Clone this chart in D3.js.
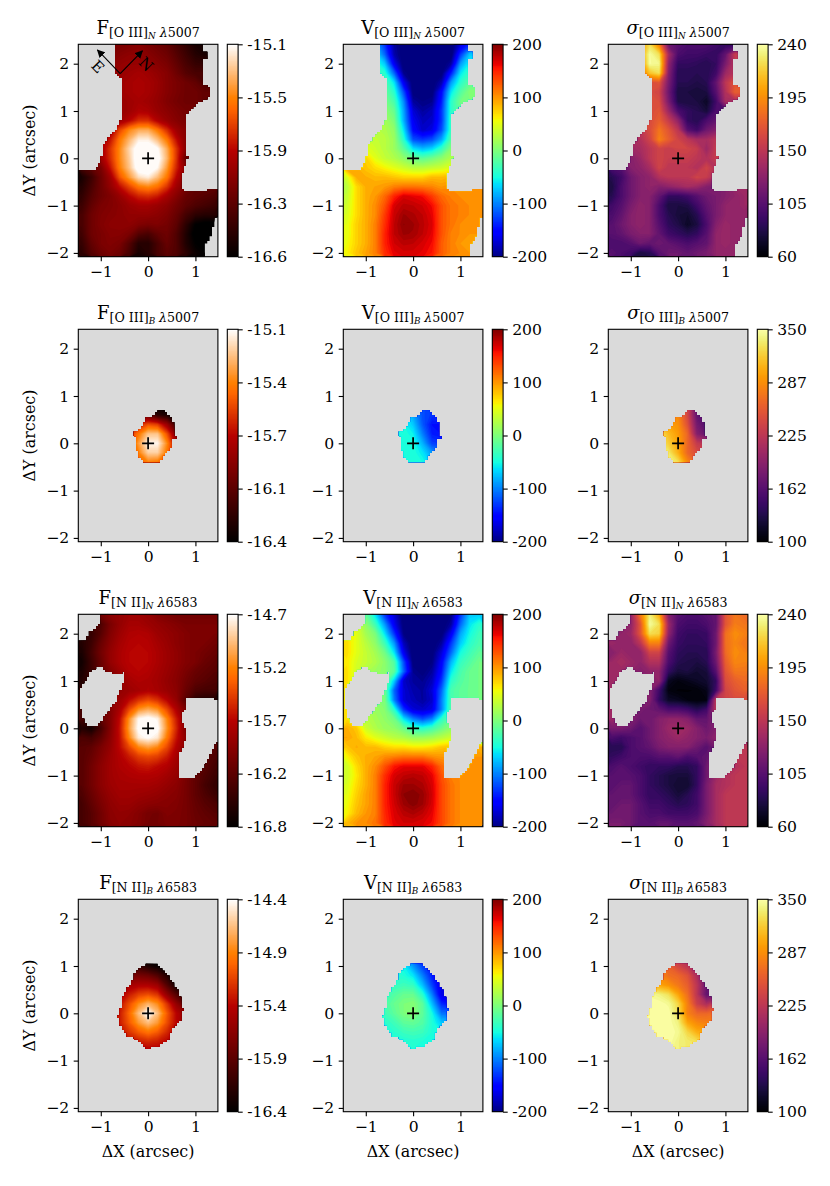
<!DOCTYPE html>
<html>
<head>
<meta charset="utf-8">
<style>
  body { margin: 0; background: #fff; }
  text { font-family: "DejaVu Serif", serif; fill: #000; }
</style>
<script src="https://d3js.org/d3.v7.min.js"></script>
</head>
<body>
<div id="chart"></div>
<script>
var svgWidth = 830;
var svgHeight = 1186;

// Narrow maps: nodes every 0.2 arcsec, x -1.4..1.4, y 2.4..-2.0
var fluxO3Narrow = [
  [-16.1,-16.1,-16.1,-16.1,-16.1,-16.08,-16.05,-16.1,-16.15,-16.2,-16.3,-16.4,-16.5,-16.5,-16.5],
  [-16.1,-16.1,-16.1,-16.1,-16.05,-16.02,-16.02,-16.05,-16.1,-16.15,-16.25,-16.35,-16.45,-16.5,-16.5],
  [-16.05,-16.05,-16.05,-16.05,-16,-15.98,-15.98,-16.02,-16.05,-16.1,-16.2,-16.3,-16.38,-16.4,-16.4],
  [-16,-16,-16,-16,-15.98,-15.95,-15.92,-15.95,-16,-16.05,-16.15,-16.25,-16.3,-16.3,-16.3],
  [-16,-16,-16,-16,-15.95,-15.92,-15.9,-15.92,-15.97,-16.05,-16.1,-16.15,-16.2,-16.3,-16.3],
  [-16,-16,-16,-16,-15.95,-15.92,-15.9,-15.92,-15.98,-16.05,-16.1,-16.15,-16.15,-16.2,-16.2],
  [-16,-16,-16,-16,-15.97,-15.95,-15.92,-15.95,-16,-16.07,-16.12,-16.15,-16.15,-16.2,-16.2],
  [-16,-16,-16,-16,-15.97,-15.95,-15.88,-15.9,-15.98,-16.03,-16.08,-16.12,-16.12,-16.12,-16.12],
  [-16,-16,-16,-16,-15.95,-15.85,-15.72,-15.72,-15.88,-15.98,-16.05,-16.1,-16.1,-16.1,-16.1],
  [-16,-16,-16,-15.95,-15.65,-15.45,-15.35,-15.35,-15.5,-15.72,-15.95,-16.05,-16.05,-16.05,-16.05],
  [-15.95,-15.95,-15.9,-15.8,-15.5,-15.32,-15.15,-15.15,-15.3,-15.5,-15.82,-16.05,-16.05,-16.05,-16.05],
  [-15.95,-15.95,-15.95,-15.7,-15.45,-15.22,-15.03,-15.03,-15.1,-15.35,-15.7,-16.05,-16.05,-16.05,-16.05],
  [-16,-16,-15.95,-15.72,-15.45,-15.25,-15,-15,-15.05,-15.32,-15.7,-16.2,-16.1,-16.1,-16.1],
  [-16.3,-16.2,-16.1,-15.8,-15.48,-15.28,-15.03,-15.03,-15.12,-15.4,-15.75,-16.05,-16.05,-16.05,-16.05],
  [-16.5,-16.35,-16.15,-15.95,-15.6,-15.4,-15.2,-15.15,-15.3,-15.5,-15.85,-16.05,-16.05,-16.05,-16.05],
  [-16.45,-16.3,-16.15,-16,-15.82,-15.65,-15.5,-15.45,-15.52,-15.7,-15.95,-16.1,-16.2,-16.2,-16.2],
  [-16.4,-16.25,-16.15,-16.08,-15.98,-15.85,-15.75,-15.72,-15.78,-15.92,-16.05,-16.18,-16.22,-16.25,-16.28],
  [-16.35,-16.2,-16.1,-16.07,-16.03,-15.97,-15.93,-15.93,-15.97,-16.03,-16.13,-16.22,-16.28,-16.32,-16.36],
  [-16.3,-16.15,-16.08,-16.05,-16.03,-16,-16,-16,-16.03,-16.08,-16.18,-16.32,-16.42,-16.45,-16.45],
  [-16.3,-16.15,-16.07,-16.03,-16.02,-16.02,-16.07,-16.1,-16.08,-16.12,-16.22,-16.42,-16.6,-16.65,-16.65],
  [-16.33,-16.15,-16.1,-16.05,-16.05,-16.1,-16.25,-16.3,-16.2,-16.15,-16.27,-16.47,-16.65,-16.65,-16.65],
  [-16.38,-16.2,-16.1,-16.07,-16.1,-16.25,-16.45,-16.45,-16.3,-16.18,-16.27,-16.47,-16.6,-16.65,-16.65],
  [-16.42,-16.25,-16.15,-16.1,-16.15,-16.3,-16.5,-16.45,-16.3,-16.22,-16.27,-16.42,-16.55,-16.6,-16.6]
];

var velO3Narrow = [
  [-80,-80,-80,-80,-130,-190,-210,-210,-210,-210,-210,-210,-170,-130,-130],
  [-60,-60,-60,-60,-110,-185,-210,-210,-210,-210,-210,-210,-130,-70,-70],
  [-40,-40,-40,-40,-70,-160,-208,-210,-210,-210,-210,-190,-90,-50,-50],
  [-30,-30,-30,-30,-40,-110,-195,-210,-210,-210,-205,-140,-60,-30,-30],
  [-20,-20,-20,-20,-20,-60,-160,-208,-210,-208,-185,-90,-40,-15,-10],
  [-10,-10,-10,-10,-10,-40,-120,-205,-210,-205,-150,-60,-20,5,5],
  [0,0,0,0,0,-25,-95,-190,-200,-195,-140,-40,-5,0,0],
  [10,10,10,10,10,-10,-85,-170,-190,-180,-130,-40,-10,-10,-10],
  [20,20,20,20,20,0,-80,-160,-180,-175,-130,-35,-15,-15,-15],
  [30,30,30,30,25,10,-60,-150,-175,-165,-120,-35,-15,-15,-15],
  [40,40,40,35,30,15,-40,-120,-130,-120,-85,-20,-5,-5,-5],
  [50,50,50,40,30,15,-15,-60,-75,-65,-35,5,10,10,10],
  [90,80,75,50,35,25,10,-8,-15,-5,8,25,25,25,25],
  [100,90,80,70,60,50,40,30,30,35,40,50,50,50,50],
  [45,90,90,85,85,80,75,75,75,85,85,90,90,90,90],
  [30,70,90,95,100,110,115,115,112,108,100,105,105,105,105],
  [35,70,90,100,120,150,170,165,160,140,120,110,105,105,105],
  [40,70,90,105,130,170,180,178,172,160,130,115,110,105,105],
  [45,70,90,105,140,175,190,185,178,165,130,115,110,105,105],
  [50,75,90,110,145,178,195,190,180,168,130,115,105,100,100],
  [50,75,90,110,150,178,190,188,178,165,130,110,105,100,100],
  [55,75,90,110,150,172,180,178,170,160,125,110,100,95,95],
  [60,80,95,110,145,165,170,170,165,155,125,110,105,100,100]
];

var sigmaO3Narrow = [
  [180,180,180,200,225,190,115,105,100,100,100,95,90,90,90],
  [200,200,200,200,238,225,140,100,95,95,92,90,110,155,155],
  [190,190,190,190,238,235,130,90,90,88,85,90,120,150,150],
  [180,180,180,180,215,225,125,85,85,85,85,95,135,150,150],
  [165,165,165,165,165,170,120,85,85,82,85,110,150,170,170],
  [165,165,165,165,165,160,115,80,80,78,80,105,145,175,175],
  [165,165,165,165,165,165,120,82,80,80,72,95,140,140,140],
  [165,165,165,165,165,170,135,100,90,85,78,100,100,100,100],
  [165,165,165,165,165,175,155,130,90,85,100,110,110,110,110],
  [150,150,150,150,165,185,170,150,105,95,115,125,125,125,125],
  [140,140,140,145,160,190,175,160,150,140,140,150,150,150,150],
  [135,135,135,140,150,160,155,160,160,155,135,155,155,155,155],
  [125,125,125,135,150,160,155,155,155,150,145,155,155,155,155],
  [100,105,125,130,140,160,150,150,150,145,160,145,145,145,145],
  [85,95,115,125,130,145,150,150,150,160,155,140,140,140,140],
  [80,100,115,125,130,125,130,135,140,135,125,120,125,135,135],
  [85,100,115,125,125,110,90,90,95,105,115,120,125,130,135],
  [95,105,120,130,125,100,80,80,82,95,110,120,130,130,135],
  [100,110,125,130,125,100,85,78,75,85,105,120,130,130,130],
  [105,115,125,130,125,105,88,82,72,80,100,125,135,130,130],
  [105,110,120,125,125,110,95,90,85,90,105,130,135,130,130],
  [100,100,105,115,110,115,110,105,100,105,110,130,135,130,130],
  [105,100,95,80,85,105,115,115,110,115,120,130,130,130,130]
];

var fluxN2Narrow = [
  [-16.2,-16.2,-16.15,-16,-15.95,-15.9,-15.9,-15.95,-16.05,-16.1,-16.15,-16.15,-16.15,-16.15,-16.15],
  [-16.3,-16.4,-16.35,-16.1,-15.95,-15.85,-15.85,-15.9,-15.95,-16,-16.05,-16.1,-16.1,-16.1,-16.1],
  [-16.55,-16.5,-16.3,-16.05,-15.9,-15.8,-15.78,-15.8,-15.9,-15.95,-16,-16.05,-16.1,-16.1,-16.1],
  [-16.6,-16.45,-16.2,-16,-15.85,-15.77,-15.75,-15.77,-15.85,-15.92,-16,-16.05,-16.1,-16.1,-16.15],
  [-16.65,-16.4,-16.15,-15.95,-15.82,-15.75,-15.73,-15.75,-15.82,-15.9,-15.97,-16.05,-16.1,-16.15,-16.2],
  [-16.7,-16.45,-16.2,-15.95,-15.82,-15.75,-15.73,-15.75,-15.82,-15.9,-15.97,-16.05,-16.1,-16.2,-16.25],
  [-16.65,-16.45,-16.2,-16.05,-15.9,-15.78,-15.75,-15.78,-15.85,-15.92,-16,-16.1,-16.2,-16.25,-16.3],
  [-16.6,-16.45,-16.2,-16.05,-15.95,-15.85,-15.8,-15.82,-15.87,-15.95,-16.02,-16.15,-16.25,-16.3,-16.35],
  [-16.5,-16.4,-16.2,-16,-15.95,-15.9,-15.85,-15.8,-15.85,-15.92,-16,-16.2,-16.35,-16.4,-16.4],
  [-16.4,-16.3,-16.2,-16,-15.9,-15.72,-15.55,-15.45,-15.55,-15.75,-15.95,-16.3,-16.55,-16.6,-16.6],
  [-16.4,-16.3,-16.2,-16.05,-15.82,-15.45,-15.15,-15.05,-15.15,-15.45,-15.8,-16.1,-16.2,-16.2,-16.2],
  [-16.4,-16.35,-16.25,-16.05,-15.72,-15.15,-14.72,-14.65,-14.75,-15.2,-15.65,-16,-16.1,-16.1,-16.1],
  [-16.6,-16.7,-16.4,-16.05,-15.68,-15.1,-14.68,-14.6,-14.68,-15.15,-15.6,-16.1,-16.1,-16.1,-16.1],
  [-16.35,-16.4,-16.25,-16,-15.7,-15.2,-14.78,-14.7,-14.8,-15.25,-15.68,-16,-16.1,-16.1,-16.1],
  [-16.3,-16.25,-16.1,-15.95,-15.72,-15.45,-15.2,-15.1,-15.2,-15.45,-15.78,-16,-16.1,-16.2,-16.3],
  [-16.3,-16.2,-16.05,-15.9,-15.78,-15.65,-15.5,-15.45,-15.5,-15.65,-15.85,-16.05,-16.2,-16.3,-16.35],
  [-16.3,-16.15,-16,-15.88,-15.8,-15.75,-15.68,-15.65,-15.72,-15.78,-15.9,-16.1,-16.2,-16.3,-16.4],
  [-16.3,-16.15,-16,-15.88,-15.83,-15.8,-15.78,-15.78,-15.8,-15.87,-15.95,-16.1,-16.25,-16.35,-16.45],
  [-16.3,-16.15,-16,-15.9,-15.85,-15.85,-15.85,-15.85,-15.88,-15.94,-16,-16.12,-16.25,-16.4,-16.5],
  [-16.35,-16.2,-16.05,-15.94,-15.88,-15.88,-15.9,-15.92,-15.95,-16,-16.03,-16.12,-16.25,-16.35,-16.45],
  [-16.4,-16.25,-16.1,-15.98,-15.92,-15.92,-15.97,-16,-16.02,-16.03,-16.06,-16.12,-16.22,-16.3,-16.35],
  [-16.4,-16.3,-16.15,-16,-15.96,-15.98,-16.04,-16.12,-16.14,-16.06,-16.08,-16.12,-16.2,-16.25,-16.3],
  [-16.4,-16.3,-16.15,-16.02,-15.98,-16,-16.05,-16.13,-16.13,-16.09,-16.09,-16.12,-16.18,-16.22,-16.25]
];

var velN2Narrow = [
  [40,30,-10,-60,-130,-170,-210,-210,-210,-210,-210,-200,-130,-70,-70],
  [60,45,10,-30,-90,-160,-205,-210,-210,-210,-210,-190,-110,-60,-40],
  [70,50,20,0,-60,-130,-200,-210,-210,-210,-205,-160,-85,-50,-30],
  [70,50,30,10,-30,-90,-180,-210,-210,-210,-190,-130,-70,-40,-25],
  [70,50,35,20,-5,-60,-160,-210,-210,-205,-170,-110,-50,-30,-15],
  [65,45,35,25,8,-20,-120,-205,-210,-200,-155,-80,-35,-20,-5],
  [70,40,25,15,8,-15,-110,-195,-205,-190,-145,-60,-25,-10,-5],
  [70,40,20,10,0,-70,-175,-190,-195,-180,-130,-40,-20,-10,-5],
  [70,40,20,10,-5,-110,-170,-185,-190,-170,-110,-25,-15,-10,-5],
  [70,40,20,10,0,-100,-170,-180,-190,-175,-100,-25,-15,-10,-5],
  [70,40,25,15,5,-40,-130,-170,-175,-165,-100,-20,-10,-5,-5],
  [70,50,30,20,10,-5,-60,-100,-120,-100,-40,-10,-5,-5,-5],
  [90,80,40,25,15,10,-8,-35,-40,-28,-8,10,10,10,10],
  [95,85,65,50,40,30,25,15,15,20,30,40,40,40,40],
  [80,90,85,85,75,70,70,65,65,70,80,85,90,90,90],
  [60,80,90,95,105,110,115,115,115,105,100,100,100,100,100],
  [40,70,90,105,130,155,165,165,165,150,120,110,100,100,100],
  [40,65,90,110,145,170,178,182,178,165,130,110,105,105,105],
  [45,70,90,110,150,175,190,190,185,170,135,115,105,105,105],
  [50,75,95,110,150,175,195,200,192,172,135,115,105,105,105],
  [55,80,95,110,150,172,190,198,190,170,135,115,105,105,105],
  [60,85,100,110,148,168,180,185,178,165,135,115,105,105,105],
  [85,100,105,115,145,165,172,172,168,160,135,115,105,105,105]
];

var sigmaN2Narrow = [
  [130,130,130,185,232,205,125,105,100,100,105,110,170,185,180],
  [130,125,130,170,238,225,135,100,95,95,100,110,170,188,185],
  [125,130,135,170,225,220,130,95,90,90,92,115,182,195,190],
  [135,130,130,150,190,190,115,92,88,88,90,115,182,192,185],
  [125,135,130,130,160,160,105,88,85,85,85,120,180,195,190],
  [135,140,135,130,145,145,100,85,82,80,85,115,175,192,190],
  [135,135,130,125,130,130,90,78,80,75,78,105,170,185,185],
  [135,135,130,125,125,130,70,65,68,72,75,90,165,175,180],
  [135,135,130,125,125,95,65,62,62,63,68,95,160,170,175],
  [135,135,130,120,125,90,72,70,65,63,65,150,160,165,165],
  [135,135,130,120,115,110,100,100,95,85,95,150,150,150,150],
  [135,130,125,115,115,125,130,130,125,110,110,130,130,130,130],
  [120,120,115,105,115,125,135,135,135,125,115,125,140,140,140],
  [100,95,100,105,115,125,130,135,130,125,120,130,140,145,145],
  [85,85,100,105,110,120,125,125,125,115,105,120,140,145,150],
  [90,95,100,100,100,105,105,110,100,105,110,125,140,150,150],
  [100,105,100,95,90,90,90,85,85,90,115,130,140,145,150],
  [105,105,105,100,90,85,80,78,78,90,115,135,145,150,150],
  [105,110,110,100,90,85,80,75,75,90,120,140,145,150,150],
  [110,110,110,100,90,90,85,78,85,95,120,140,150,150,150],
  [110,115,115,105,95,95,90,85,88,95,120,140,150,150,150],
  [115,115,115,105,100,100,95,95,95,100,120,140,150,150,150],
  [120,120,115,105,105,110,110,105,105,110,125,140,150,150,150]
];

// Broad [O III] maps: x -0.4..0.6, y 0.8..-0.6, step 0.2
var fluxO3Broad = [
  [-16.2,-16.3,-16.4,-16.4,-16.4,-16.4],
  [-15.95,-15.95,-16.05,-16.25,-16.3,-16.4],
  [-15.8,-15.65,-15.55,-15.6,-15.85,-16.2],
  [-15.65,-15.45,-15.25,-15.25,-15.55,-15.95],
  [-15.6,-15.35,-15.12,-15.12,-15.4,-15.8],
  [-15.55,-15.42,-15.22,-15.22,-15.45,-15.75],
  [-15.55,-15.5,-15.42,-15.45,-15.55,-15.8],
  [-15.55,-15.5,-15.45,-15.5,-15.6,-15.8]
];
var velO3Broad = [
  [-45,-60,-90,-120,-130,-130],
  [-45,-55,-85,-120,-130,-130],
  [-45,-50,-70,-115,-145,-145],
  [-45,-45,-55,-100,-140,-145],
  [-45,-45,-47,-80,-125,-130],
  [-45,-45,-45,-60,-90,-100],
  [-45,-45,-45,-50,-70,-80],
  [-45,-45,-45,-45,-60,-70]
];
var sigmaO3Broad = [
  [300,280,280,240,170,170],
  [300,290,285,240,170,160],
  [320,300,290,250,180,160],
  [335,310,295,265,190,170],
  [340,320,300,265,230,220],
  [340,335,305,265,245,240],
  [340,340,330,285,260,250],
  [340,340,335,300,270,260]
];

// Broad [N II] maps: x -0.8..0.8, y 1.2..-0.8, step 0.2
var fluxN2Broad = [
  [-16.2,-16.3,-16.4,-16.4,-16.4,-16.4,-16.4,-16.4,-16.4],
  [-16,-16.1,-16.1,-16.1,-16.25,-16.35,-16.4,-16.4,-16.4],
  [-15.8,-15.75,-15.75,-15.75,-15.8,-15.95,-16.2,-16.4,-16.4],
  [-15.6,-15.55,-15.5,-15.45,-15.45,-15.55,-15.95,-16.3,-16.4],
  [-15.5,-15.45,-15.3,-15.15,-15.1,-15.2,-15.6,-15.95,-16.1],
  [-15.4,-15.35,-15.1,-14.85,-14.7,-14.85,-15.2,-15.6,-15.9],
  [-15.35,-15.3,-15,-14.65,-14.35,-14.65,-15.05,-15.4,-15.6],
  [-15.35,-15.3,-15.05,-14.8,-14.65,-14.8,-15.1,-15.4,-15.6],
  [-15.4,-15.35,-15.2,-15.05,-14.95,-15.05,-15.25,-15.45,-15.6],
  [-15.45,-15.45,-15.35,-15.3,-15.25,-15.3,-15.4,-15.5,-15.6],
  [-15.5,-15.5,-15.45,-15.45,-15.45,-15.45,-15.5,-15.55,-15.6]
];
var velN2Broad = [
  [-45,-45,-50,-70,-120,-130,-130,-130,-130],
  [-45,-45,-45,-55,-90,-125,-135,-135,-135],
  [-40,-40,-40,-45,-60,-100,-140,-150,-150],
  [-40,-35,-35,-30,-35,-75,-125,-165,-170],
  [-35,-30,-20,-10,-10,-40,-100,-165,-170],
  [-35,-25,-10,0,5,-15,-75,-135,-150],
  [-40,-30,-15,0,5,-15,-50,-105,-110],
  [-45,-40,-30,-15,-12,-20,-45,-70,-75],
  [-45,-45,-40,-32,-28,-32,-45,-50,-55],
  [-45,-45,-45,-45,-42,-45,-45,-50,-50],
  [-45,-45,-45,-45,-45,-45,-45,-50,-50]
];
var sigmaN2Broad = [
  [290,290,280,250,230,210,190,170,160],
  [290,290,285,260,240,225,200,170,160],
  [300,295,285,270,265,250,215,170,160],
  [320,310,300,290,275,260,225,175,165],
  [345,345,340,330,300,270,225,170,170],
  [350,350,350,345,325,280,235,215,240],
  [350,350,350,350,330,280,265,265,270],
  [350,350,350,350,340,300,285,280,280],
  [350,350,350,350,345,325,305,300,300],
  [350,350,350,350,340,335,330,320,320],
  [350,350,350,345,340,335,330,320,320]
];

// Outlines of the valid pixels, in arcsec
var outlineO3Narrow = [[-0.68,2.5],[1.13,2.5],[1.13,2.25],[1.23,2.24],[1.23,2.11],[1.14,2.08],[1.14,1.58],[1.23,1.55],[1.32,1.42],[1.32,1.3],[1.15,1.23],[0.97,1.12],[0.8,0.93],[0.78,0.7],[0.8,0.35],[0.83,0],[0.75,-0.25],[0.69,-0.43],[0.69,-0.59],[0.78,-0.71],[1.22,-0.71],[1.23,-0.66],[1.6,-0.66],[1.6,-1.26],[1.4,-1.26],[1.36,-1.56],[1.29,-1.74],[1.18,-1.88],[1.18,-2.2],[-1.6,-2.2],[-1.6,-0.27],[-1.09,-0.25],[-1.01,-0.08],[-0.94,0.13],[-0.93,0.31],[-0.79,0.47],[-0.68,0.59],[-0.56,0.84],[-0.53,1.05],[-0.53,1.65],[-0.68,1.83]];
var holesN2Narrow = [
  [[-1.6,2.5],[-0.99,2.5],[-0.99,2.22],[-1.11,2.12],[-1.21,2.05],[-1.32,1.87],[-1.42,1.86],[-1.6,1.86]],
  [[-1.21,1.26],[-0.97,1.3],[-0.86,1.21],[-0.7,1.16],[-0.49,1.18],[-0.49,1.02],[-0.58,0.81],[-0.68,0.56],[-0.86,0.31],[-1,0.13],[-1.11,0.03],[-1.28,0.03],[-1.41,0.24],[-1.44,0.59],[-1.45,0.84],[-1.32,1.02],[-1.25,1.16]],
  [[0.82,0.66],[1.29,0.66],[1.47,0.59],[1.6,0.5],[1.6,-0.1],[1.47,-0.29],[1.32,-0.57],[1.18,-0.82],[0.97,-1.07],[0.66,-1.05],[0.63,-0.61],[0.75,-0.36],[0.82,-0.04],[0.69,0.13],[0.68,0.31],[0.78,0.38],[0.78,0.59]]
];
var outlineO3Broad = [[0.18,0.7],[0.37,0.69],[0.37,0.63],[0.49,0.56],[0.54,0.42],[0.58,0.1],[0.49,0.06],[0.48,-0.08],[0.34,-0.25],[0.21,-0.41],[-0.08,-0.41],[-0.19,-0.29],[-0.24,-0.08],[-0.27,0.13],[-0.32,0.15],[-0.32,0.22],[-0.23,0.24],[-0.12,0.38],[-0.01,0.56],[0.16,0.58]];
var outlineN2Broad = [[0.02,1.07],[0.16,1.07],[0.3,0.95],[0.41,0.81],[0.51,0.66],[0.66,0.45],[0.7,0.17],[0.73,0.06],[0.66,-0.18],[0.51,-0.33],[0.44,-0.52],[0.23,-0.71],[-0.03,-0.73],[-0.19,-0.57],[-0.44,-0.47],[-0.58,-0.25],[-0.63,-0.08],[-0.56,0.13],[-0.51,0.42],[-0.33,0.66],[-0.26,0.88],[-0.08,1.02]];

// Colorbar limits and tick labels
var fluxO3NarrowTicks = ["-16.6", "-16.3", "-15.9", "-15.5", "-15.1"];
var fluxO3BroadTicks = ["-16.4", "-16.1", "-15.7", "-15.4", "-15.1"];
var fluxN2NarrowTicks = ["-16.8", "-16.2", "-15.7", "-15.2", "-14.7"];
var fluxN2BroadTicks = ["-16.4", "-15.9", "-15.4", "-14.9", "-14.4"];
var velTicks = ["-200", "-100", "0", "100", "200"];
var sigmaNarrowTicks = ["60", "105", "150", "195", "240"];
var sigmaBroadTicks = ["100", "162", "225", "287", "350"];

var xTickValues = [-1, 0, 1];
var yTickValues = [-2, -1, 0, 1, 2];

var narrowGrid = { x0: -1.4, y0: 2.4, step: 0.2 };
var o3BroadGrid = { x0: -0.4, y0: 0.8, step: 0.2 };
var n2BroadGrid = { x0: -0.8, y0: 1.2, step: 0.2 };

// Colormaps (matplotlib gist_heat and jet)
function gistHeat(t) {
  var r = Math.min(1, t / 0.7), g = Math.max(0, 2 * t - 1), b = Math.max(0, 4 * t - 3);
  return d3.rgb(r * 255, g * 255, b * 255) + "";
}
var jetR = d3.scaleLinear().domain([0, 0.35, 0.66, 0.89, 1]).range([0, 0, 1, 1, 0.5]);
var jetG = d3.scaleLinear().domain([0, 0.125, 0.375, 0.64, 0.91, 1]).range([0, 0, 1, 1, 0, 0]);
var jetB = d3.scaleLinear().domain([0, 0.11, 0.34, 0.65, 1]).range([0.5, 1, 1, 0, 0]);
function jet(t) {
  return d3.rgb(jetR(t) * 255, jetG(t) * 255, jetB(t) * 255) + "";
}

var rowTops = [44.3, 329.3, 614.3, 899.3];
var colLefts = [78.3, 343.3, 608.3];
var plotWidth = 139.6;
var plotHeight = 212.4;
var xLimits = [-1.475, 1.475];
var yLimits = [-2.08, 2.41];
var tickFont = "15.6px";
var labelFont = "15.9px";

var panels = [
  { row: 0, col: 0, lead: "F", ion: "[O III]", kin: "N", wave: "5007", z: fluxO3Narrow, grid: narrowGrid, lim: [-16.6, -15.1], cmap: gistHeat, labels: fluxO3NarrowTicks, outline: outlineO3Narrow, compass: true },
  { row: 0, col: 1, lead: "V", ion: "[O III]", kin: "N", wave: "5007", z: velO3Narrow, grid: narrowGrid, lim: [-200, 200], cmap: jet, labels: velTicks, outline: outlineO3Narrow },
  { row: 0, col: 2, lead: "σ", ion: "[O III]", kin: "N", wave: "5007", z: sigmaO3Narrow, grid: narrowGrid, lim: [60, 240], cmap: d3.interpolateInferno, labels: sigmaNarrowTicks, outline: outlineO3Narrow },
  { row: 1, col: 0, lead: "F", ion: "[O III]", kin: "B", wave: "5007", z: fluxO3Broad, grid: o3BroadGrid, lim: [-16.4, -15.1], cmap: gistHeat, labels: fluxO3BroadTicks, outline: outlineO3Broad },
  { row: 1, col: 1, lead: "V", ion: "[O III]", kin: "B", wave: "5007", z: velO3Broad, grid: o3BroadGrid, lim: [-200, 200], cmap: jet, labels: velTicks, outline: outlineO3Broad },
  { row: 1, col: 2, lead: "σ", ion: "[O III]", kin: "B", wave: "5007", z: sigmaO3Broad, grid: o3BroadGrid, lim: [100, 350], cmap: d3.interpolateInferno, labels: sigmaBroadTicks, outline: outlineO3Broad },
  { row: 2, col: 0, lead: "F", ion: "[N II]", kin: "N", wave: "6583", z: fluxN2Narrow, grid: narrowGrid, lim: [-16.8, -14.7], cmap: gistHeat, labels: fluxN2NarrowTicks, holes: holesN2Narrow },
  { row: 2, col: 1, lead: "V", ion: "[N II]", kin: "N", wave: "6583", z: velN2Narrow, grid: narrowGrid, lim: [-200, 200], cmap: jet, labels: velTicks, holes: holesN2Narrow },
  { row: 2, col: 2, lead: "σ", ion: "[N II]", kin: "N", wave: "6583", z: sigmaN2Narrow, grid: narrowGrid, lim: [60, 240], cmap: d3.interpolateInferno, labels: sigmaNarrowTicks, holes: holesN2Narrow },
  { row: 3, col: 0, lead: "F", ion: "[N II]", kin: "B", wave: "6583", z: fluxN2Broad, grid: n2BroadGrid, lim: [-16.4, -14.4], cmap: gistHeat, labels: fluxN2BroadTicks, outline: outlineN2Broad },
  { row: 3, col: 1, lead: "V", ion: "[N II]", kin: "B", wave: "6583", z: velN2Broad, grid: n2BroadGrid, lim: [-200, 200], cmap: jet, labels: velTicks, outline: outlineN2Broad },
  { row: 3, col: 2, lead: "σ", ion: "[N II]", kin: "B", wave: "6583", z: sigmaN2Broad, grid: n2BroadGrid, lim: [100, 350], cmap: d3.interpolateInferno, labels: sigmaBroadTicks, outline: outlineN2Broad }
];

var svg = d3.select("#chart")
  .append("svg")
  .attr("width", svgWidth)
  .attr("height", svgHeight)
  .style("display", "block");

var defs = svg.append("defs");
defs.append("marker")
  .attr("id", "arrowhead")
  .attr("viewBox", "0 0 10 10")
  .attr("refX", 9)
  .attr("refY", 5)
  .attr("markerUnits", "userSpaceOnUse")
  .attr("markerWidth", 8)
  .attr("markerHeight", 8)
  .attr("orient", "auto")
  .append("path")
  .attr("d", "M0,0L10,5L0,10z")
  .attr("fill", "#000");

// Pixel staircase of the valid region, 0.05 arcsec pixels like the data cube
function maskPath(p, xScale, yScale) {
  var d = "";
  var size = 0.05;
  for (var i = 0; i < 60; i++) {
    for (var j = 0; j < 92; j++) {
      var xLow = -1.5 + i * size;
      var yLow = -2.1 + j * size;
      var c = [xLow + size / 2, yLow + size / 2];
      var keep;
      if (p.outline) {
        keep = d3.polygonContains(p.outline, c);
      } else {
        keep = !p.holes.some(function(h) { return d3.polygonContains(h, c); });
      }
      if (keep) {
        var left = xScale(xLow), right = xScale(xLow + size);
        var top = yScale(yLow + size), bottom = yScale(yLow);
        d += "M" + left + "," + top + "H" + right + "V" + bottom + "H" + left + "z";
      }
    }
  }
  return d;
}

panels.forEach(function(p, index) {
  var left = colLefts[p.col];
  var top = rowTops[p.row];
  var g = svg.append("g").attr("transform", `translate(${left}, ${top})`);

  var xScale = d3.scaleLinear().domain(xLimits).range([0, plotWidth]);
  var yScale = d3.scaleLinear().domain(yLimits).range([plotHeight, 0]);

  var color = d3.scaleLinear().domain(p.lim).range([0, 1]).clamp(true);
  var fillFor = function(v) { return p.cmap(color(v)); };

  var boxId = "box" + index;
  var maskId = "mask" + index;
  defs.append("clipPath").attr("id", boxId)
    .append("rect").attr("width", plotWidth).attr("height", plotHeight);
  defs.append("clipPath").attr("id", maskId)
    .append("path").attr("d", maskPath(p, xScale, yScale));

  g.append("rect")
    .attr("width", plotWidth)
    .attr("height", plotHeight)
    .attr("fill", "#dadada");

  // Filled contours of the map, cut to the valid pixels
  var nx = p.z[0].length;
  var ny = p.z.length;
  var levels = 72;
  var stepV = (p.lim[1] - p.lim[0]) / levels;
  var thresholds = d3.range(levels).map(function(i) { return p.lim[0] + i * stepV; });
  var contours = d3.contours().size([nx, ny]).thresholds(thresholds)(p.z.flat());

  var grid = p.grid;
  var toScreen = d3.geoTransform({
    point: function(gx, gy) {
      this.stream.point(
        xScale(grid.x0 + (gx - 0.5) * grid.step),
        yScale(grid.y0 - (gy - 0.5) * grid.step)
      );
    }
  });
  var path = d3.geoPath(toScreen);

  var mapGroup = g.append("g").attr("clip-path", `url(#${boxId})`)
    .append("g").attr("clip-path", `url(#${maskId})`);
  mapGroup.append("rect")
    .attr("width", plotWidth)
    .attr("height", plotHeight)
    .attr("fill", fillFor(p.lim[0]));
  mapGroup.selectAll("path")
    .data(contours)
    .enter()
    .append("path")
    .attr("d", path)
    .attr("fill", function(d) { return fillFor(d.value + stepV / 2); });

  // Nucleus
  var cx = xScale(0), cy = yScale(0);
  g.append("path")
    .attr("d", `M${cx - 6},${cy}H${cx + 6}M${cx},${cy - 6}V${cy + 6}`)
    .attr("stroke", "#000")
    .attr("stroke-width", 1.7)
    .attr("fill", "none");

  if (p.compass) {
    var origin = [-0.59, 1.79];
    var east = [-1.07, 2.29];
    var north = [-0.12, 2.27];
    [east, north].forEach(function(tip) {
      g.append("line")
        .attr("x1", xScale(origin[0]))
        .attr("y1", yScale(origin[1]))
        .attr("x2", xScale(tip[0]))
        .attr("y2", yScale(tip[1]))
        .attr("stroke", "#000")
        .attr("stroke-width", 1.1)
        .attr("marker-end", "url(#arrowhead)");
    });
    g.append("text")
      .attr("transform", `translate(${xScale(-1.06)}, ${yScale(1.94)}) rotate(45)`)
      .attr("text-anchor", "middle")
      .attr("dy", "0.36em")
      .attr("font-size", "15px")
      .text("E");
    g.append("text")
      .attr("transform", `translate(${xScale(-0.04)}, ${yScale(1.99)}) rotate(45)`)
      .attr("text-anchor", "middle")
      .attr("dy", "0.36em")
      .attr("font-size", "15px")
      .text("N");
  }

  // Frame and axes
  g.append("rect")
    .attr("width", plotWidth)
    .attr("height", plotHeight)
    .attr("fill", "none")
    .attr("stroke", "#000")
    .attr("stroke-width", 1.1);

  var bottomAxis = d3.axisBottom(xScale).tickValues(xTickValues).tickSize(4.6).tickPadding(4.5).tickFormat(d3.format("d"));
  var leftAxis = d3.axisLeft(yScale).tickValues(yTickValues).tickSize(4.6).tickPadding(4.5).tickFormat(d3.format("d"));
  var xAxis = g.append("g").attr("transform", `translate(0, ${plotHeight})`).call(bottomAxis);
  var yAxis = g.append("g").call(leftAxis);
  [xAxis, yAxis].forEach(function(a) {
    a.select(".domain").remove();
    a.selectAll("line").attr("stroke", "#000").attr("stroke-width", 1.1);
    a.selectAll("text").attr("font-family", null).attr("font-size", tickFont);
  });

  // Title
  var title = g.append("text")
    .attr("x", plotWidth / 2)
    .attr("y", -10.3)
    .attr("text-anchor", "middle");
  title.append("tspan")
    .attr("font-size", "18px")
    .attr("font-style", p.lead === "σ" ? "italic" : "normal")
    .text(p.lead);
  title.append("tspan").attr("font-size", "12.6px").attr("dy", 3).text(p.ion);
  title.append("tspan").attr("font-size", "8.8px").attr("font-style", "italic").attr("dy", 1.5).text(p.kin);
  title.append("tspan").attr("font-size", "12.6px").attr("font-style", "italic").attr("dy", -1.5).text(" λ");
  title.append("tspan").attr("font-size", "12.6px").text(p.wave);

  if (p.col === 0) {
    g.append("text")
      .attr("transform", "rotate(-90)")
      .attr("x", -plotHeight / 2)
      .attr("y", -43)
      .attr("text-anchor", "middle")
      .attr("font-size", labelFont)
      .text("ΔY (arcsec)");
  }
  if (p.row === 3) {
    g.append("text")
      .attr("x", plotWidth / 2)
      .attr("y", plotHeight + 45.5)
      .attr("text-anchor", "middle")
      .attr("font-size", labelFont)
      .text("ΔX (arcsec)");
  }

  // Colorbar
  var barX = plotWidth + 9.4;
  var barWidth = 10.8;
  var bar = g.append("g").attr("transform", `translate(${barX}, 0)`);
  var barScale = d3.scaleLinear().domain(p.lim).range([plotHeight, 0]);
  var barSteps = d3.range(256);
  bar.selectAll("rect")
    .data(barSteps)
    .enter()
    .append("rect")
    .attr("x", 0)
    .attr("width", barWidth)
    .attr("y", function(d) { return barScale(p.lim[0] + (d + 1) / 256 * (p.lim[1] - p.lim[0])); })
    .attr("height", plotHeight / 256 + 0.5)
    .attr("shape-rendering", "crispEdges")
    .attr("fill", function(d) { return p.cmap((d + 0.5) / 256); });
  bar.append("rect")
    .attr("width", barWidth)
    .attr("height", plotHeight)
    .attr("fill", "none")
    .attr("stroke", "#000")
    .attr("stroke-width", 1.1);

  var barTicks = p.labels.map(function(_, i) { return p.lim[0] + i / 4 * (p.lim[1] - p.lim[0]); });
  var rightAxis = d3.axisRight(barScale)
    .tickValues(barTicks)
    .tickSize(4.6)
    .tickPadding(4.5)
    .tickFormat(function(d, i) { return p.labels[i]; });
  var barAxis = bar.append("g").attr("transform", `translate(${barWidth}, 0)`).call(rightAxis);
  barAxis.select(".domain").remove();
  barAxis.selectAll("line").attr("stroke", "#000").attr("stroke-width", 1.1);
  barAxis.selectAll("text").attr("font-family", null).attr("font-size", tickFont);
});
</script>
</body>
</html>
